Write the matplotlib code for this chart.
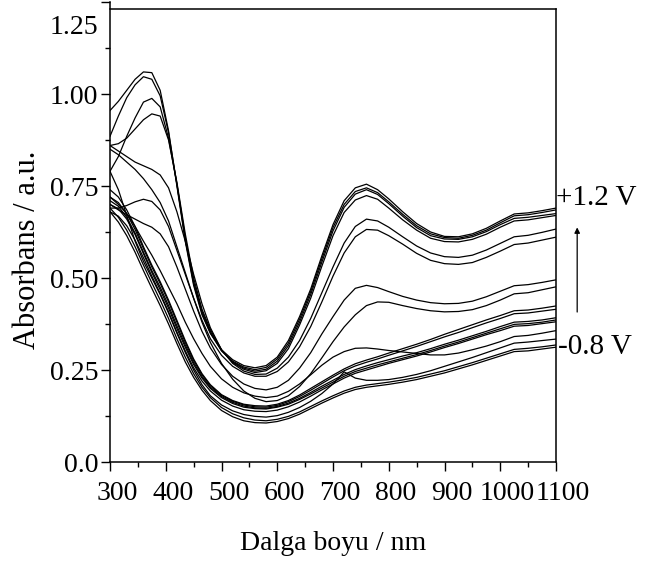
import matplotlib
matplotlib.use("Agg")
import matplotlib.pyplot as plt
from matplotlib.ticker import MultipleLocator, FixedLocator
from matplotlib.transforms import ScaledTranslation

plt.rcParams['font.family'] = ['Liberation Serif', 'DejaVu Serif']

wavelength = [300, 315, 330, 345, 360, 375, 390, 405, 420, 435, 450, 465, 480, 500, 520, 540, 560, 580,
              600, 620, 640, 660, 680, 700, 720, 740, 760, 780, 800, 825, 850, 875, 900, 925, 950, 975,
              1000, 1025, 1050, 1075, 1100]

c1 = [0.955, 0.98, 1.01, 1.04, 1.06, 1.058, 1.01, 0.90, 0.75, 0.60, 0.48, 0.40, 0.35, 0.305, 0.278, 0.262,
      0.256, 0.262, 0.285, 0.33, 0.395, 0.47, 0.56, 0.645, 0.71, 0.745, 0.755, 0.74, 0.715, 0.68, 0.648,
      0.625, 0.613, 0.612, 0.62, 0.635, 0.655, 0.674, 0.677, 0.683, 0.69]
c2 = [0.885, 0.94, 0.99, 1.025, 1.047, 1.04, 0.995, 0.895, 0.755, 0.605, 0.485, 0.405, 0.35, 0.302, 0.274,
      0.258, 0.251, 0.257, 0.28, 0.323, 0.388, 0.463, 0.552, 0.637, 0.70, 0.735, 0.745, 0.732, 0.707, 0.673,
      0.642, 0.62, 0.61, 0.608, 0.616, 0.63, 0.65, 0.669, 0.672, 0.678, 0.685]
c3 = [0.79, 0.83, 0.885, 0.935, 0.978, 0.988, 0.965, 0.88, 0.755, 0.61, 0.49, 0.41, 0.355, 0.303, 0.272,
      0.255, 0.247, 0.252, 0.274, 0.316, 0.38, 0.455, 0.543, 0.628, 0.692, 0.728, 0.74, 0.727, 0.702, 0.668,
      0.637, 0.615, 0.606, 0.605, 0.612, 0.626, 0.645, 0.662, 0.665, 0.67, 0.675]
c4 = [0.86, 0.865, 0.88, 0.905, 0.93, 0.946, 0.94, 0.875, 0.76, 0.62, 0.50, 0.415, 0.36, 0.305, 0.27,
      0.252, 0.243, 0.248, 0.268, 0.308, 0.372, 0.445, 0.532, 0.615, 0.678, 0.712, 0.724, 0.714, 0.69, 0.658,
      0.63, 0.608, 0.599, 0.598, 0.605, 0.619, 0.638, 0.655, 0.658, 0.664, 0.67]
c5 = [0.86, 0.845, 0.83, 0.815, 0.805, 0.795, 0.78, 0.745, 0.68, 0.60, 0.51, 0.43, 0.365, 0.305, 0.268,
      0.247, 0.238, 0.239, 0.255, 0.285, 0.33, 0.39, 0.46, 0.53, 0.595, 0.64, 0.66, 0.655, 0.638, 0.612,
      0.587, 0.568, 0.558, 0.556, 0.562, 0.576, 0.594, 0.612, 0.616, 0.624, 0.633]
c6 = [0.69, 0.69, 0.697, 0.707, 0.714, 0.708, 0.685, 0.64, 0.575, 0.51, 0.445, 0.385, 0.335, 0.29, 0.26,
      0.242, 0.233, 0.233, 0.246, 0.272, 0.313, 0.368, 0.435, 0.505, 0.568, 0.612, 0.632, 0.63, 0.615, 0.592,
      0.567, 0.548, 0.539, 0.537, 0.542, 0.556, 0.573, 0.591, 0.595, 0.603, 0.611]
c7 = [0.70, 0.685, 0.672, 0.66, 0.648, 0.638, 0.62, 0.585, 0.53, 0.47, 0.41, 0.355, 0.31, 0.265, 0.233,
      0.212, 0.20, 0.196, 0.203, 0.222, 0.255, 0.297, 0.348, 0.395, 0.44, 0.472, 0.48, 0.474, 0.463, 0.45,
      0.44, 0.433, 0.43, 0.431, 0.437, 0.449, 0.464, 0.479, 0.482, 0.488, 0.495]
c8 = [0.85, 0.835, 0.815, 0.795, 0.77, 0.74, 0.705, 0.655, 0.585, 0.515, 0.445, 0.38, 0.325, 0.268, 0.225,
      0.193, 0.173, 0.164, 0.167, 0.18, 0.205, 0.24, 0.283, 0.327, 0.367, 0.40, 0.425, 0.435, 0.434, 0.425,
      0.417, 0.411, 0.408, 0.409, 0.414, 0.425, 0.44, 0.457, 0.46, 0.468, 0.476]
c9 = [0.72, 0.70, 0.675, 0.64, 0.60, 0.562, 0.52, 0.475, 0.43, 0.38, 0.335, 0.295, 0.26, 0.226, 0.203,
      0.188, 0.179, 0.175, 0.179, 0.192, 0.212, 0.237, 0.263, 0.285, 0.30, 0.309, 0.31, 0.307, 0.303, 0.299,
      0.295, 0.291, 0.291, 0.296, 0.305, 0.315, 0.327, 0.341, 0.344, 0.35, 0.357]
d1 = [0.74, 0.72, 0.685, 0.64, 0.585, 0.535, 0.49, 0.44, 0.385, 0.33, 0.28, 0.24, 0.21, 0.183, 0.167,
      0.157, 0.153, 0.152, 0.157, 0.167, 0.182, 0.20, 0.218, 0.236, 0.253, 0.267, 0.277, 0.286, 0.296, 0.308,
      0.32, 0.333, 0.347, 0.36, 0.373, 0.386, 0.398, 0.411, 0.413, 0.418, 0.424]
d2 = [0.72, 0.705, 0.675, 0.632, 0.58, 0.53, 0.485, 0.435, 0.38, 0.325, 0.276, 0.237, 0.207, 0.181, 0.165,
      0.155, 0.15, 0.149, 0.154, 0.164, 0.178, 0.195, 0.213, 0.231, 0.248, 0.261, 0.271, 0.28, 0.29, 0.302,
      0.314, 0.327, 0.34, 0.352, 0.365, 0.378, 0.39, 0.403, 0.405, 0.41, 0.415]
d3 = [0.71, 0.695, 0.665, 0.622, 0.57, 0.52, 0.475, 0.425, 0.37, 0.318, 0.27, 0.232, 0.203, 0.178, 0.162,
      0.152, 0.147, 0.146, 0.151, 0.16, 0.173, 0.189, 0.206, 0.222, 0.238, 0.251, 0.261, 0.27, 0.278, 0.288,
      0.297, 0.308, 0.32, 0.331, 0.343, 0.355, 0.368, 0.38, 0.382, 0.386, 0.392]
d4 = [0.70, 0.688, 0.66, 0.618, 0.566, 0.515, 0.468, 0.418, 0.363, 0.312, 0.265, 0.228, 0.20, 0.175, 0.159,
      0.149, 0.145, 0.144, 0.149, 0.157, 0.17, 0.185, 0.201, 0.217, 0.233, 0.246, 0.255, 0.264, 0.272, 0.282,
      0.292, 0.303, 0.315, 0.326, 0.338, 0.35, 0.362, 0.374, 0.376, 0.38, 0.386]
d5 = [0.68, 0.668, 0.642, 0.603, 0.555, 0.505, 0.458, 0.408, 0.353, 0.302, 0.256, 0.22, 0.193, 0.168, 0.152,
      0.142, 0.138, 0.137, 0.141, 0.15, 0.163, 0.179, 0.196, 0.212, 0.228, 0.241, 0.25, 0.259, 0.268, 0.278,
      0.288, 0.299, 0.311, 0.322, 0.334, 0.346, 0.357, 0.369, 0.371, 0.376, 0.381]
d6 = [0.79, 0.74, 0.67, 0.60, 0.545, 0.50, 0.455, 0.405, 0.35, 0.298, 0.25, 0.21, 0.18, 0.155, 0.139,
      0.129, 0.124, 0.122, 0.126, 0.135, 0.148, 0.165, 0.186, 0.212, 0.245, 0.228, 0.222, 0.222, 0.224, 0.23,
      0.238, 0.248, 0.26, 0.272, 0.284, 0.297, 0.31, 0.323, 0.326, 0.33, 0.334]
d7 = [0.69, 0.665, 0.63, 0.585, 0.535, 0.487, 0.44, 0.39, 0.335, 0.285, 0.24, 0.203, 0.175, 0.148, 0.131,
      0.12, 0.114, 0.112, 0.116, 0.124, 0.136, 0.151, 0.166, 0.18, 0.193, 0.203, 0.209, 0.213, 0.217, 0.223,
      0.23, 0.239, 0.248, 0.259, 0.27, 0.282, 0.294, 0.306, 0.309, 0.313, 0.318]
d8 = [0.68, 0.652, 0.615, 0.57, 0.52, 0.472, 0.425, 0.375, 0.322, 0.272, 0.23, 0.195, 0.167, 0.14, 0.123,
      0.112, 0.107, 0.106, 0.11, 0.118, 0.13, 0.145, 0.16, 0.174, 0.187, 0.197, 0.203, 0.207, 0.211, 0.217,
      0.224, 0.233, 0.242, 0.253, 0.264, 0.276, 0.288, 0.30, 0.302, 0.307, 0.312]

spectra = [c1, c2, c3, c4, c5, c6, c7, c8, c9, d1, d2, d3, d4, d5, d6, d7, d8]

x_ticks = [300, 400, 500, 600, 700, 800, 900, 1000, 1100]
x_ticklabels = ["300", "400", "500", "600", "700", "800", "900", "1000", "1100"]
y_ticks = [0.0, 0.25, 0.50, 0.75, 1.00, 1.25]
y_ticklabels = ["0.0", "0.25", "0.50", "0.75", "1.00", "1.25"]

W, H = 648, 566
fig = plt.figure(figsize=(W / 100, H / 100), dpi=100)
ax = fig.add_axes([110 / W, (H - 462) / H, (556 - 110) / W, (462 - 2) / H])

for s in spectra:
    ax.plot(wavelength, s, color='black', lw=0.9)

ax.set_xlim(300, 1100)
ax.set_ylim(0, 1.25)

frame_top = 1.231
ax.spines['top'].set_visible(False)
ax.plot([300, 1100], [frame_top, frame_top], color='black', lw=1.1, clip_on=False)
ax.spines['right'].set_bounds(0, frame_top)
for sp in ['left', 'bottom', 'right']:
    ax.spines[sp].set_linewidth(1.1)

ax.xaxis.set_major_locator(FixedLocator(x_ticks))
ax.xaxis.set_minor_locator(MultipleLocator(50))
ax.yaxis.set_major_locator(FixedLocator(y_ticks))
ax.yaxis.set_minor_locator(MultipleLocator(0.125))
ax.set_xticklabels(x_ticklabels)
ax.set_yticklabels(y_ticklabels)
ax.tick_params(which='major', direction='out', length=6.5, width=1.0, labelsize=20, pad=7)
ax.tick_params(which='minor', direction='out', length=3.5, width=1.0)
ax.tick_params(axis='y', pad=2)

for lab in ax.get_xticklabels():
    lab.set_transform(lab.get_transform() + ScaledTranslation(7 / 100, 0, fig.dpi_scale_trans))
ylabs = ax.get_yticklabels()
ylabs[-1].set_transform(ylabs[-1].get_transform() + ScaledTranslation(0, -22 / 100, fig.dpi_scale_trans))

ax.set_xlabel("Dalga boyu / nm", fontsize=20, labelpad=18)
ax.set_ylabel("Absorbans / a.u.", fontsize=22)
ax.yaxis.set_label_coords(-0.153, 0.461)

ax.text(1100, 0.717, "+1.2 V", fontsize=21, ha='left', va='center', clip_on=False)
ax.text(1103, 0.3125, "-0.8 V", fontsize=21, ha='left', va='center', clip_on=False)
ax.annotate("", xy=(1138, 0.645), xytext=(1138, 0.40), xycoords='data',
            arrowprops=dict(arrowstyle='-|>', color='black', lw=0.9, mutation_scale=8),
            annotation_clip=False)

fig.savefig("out.png", dpi=100)
